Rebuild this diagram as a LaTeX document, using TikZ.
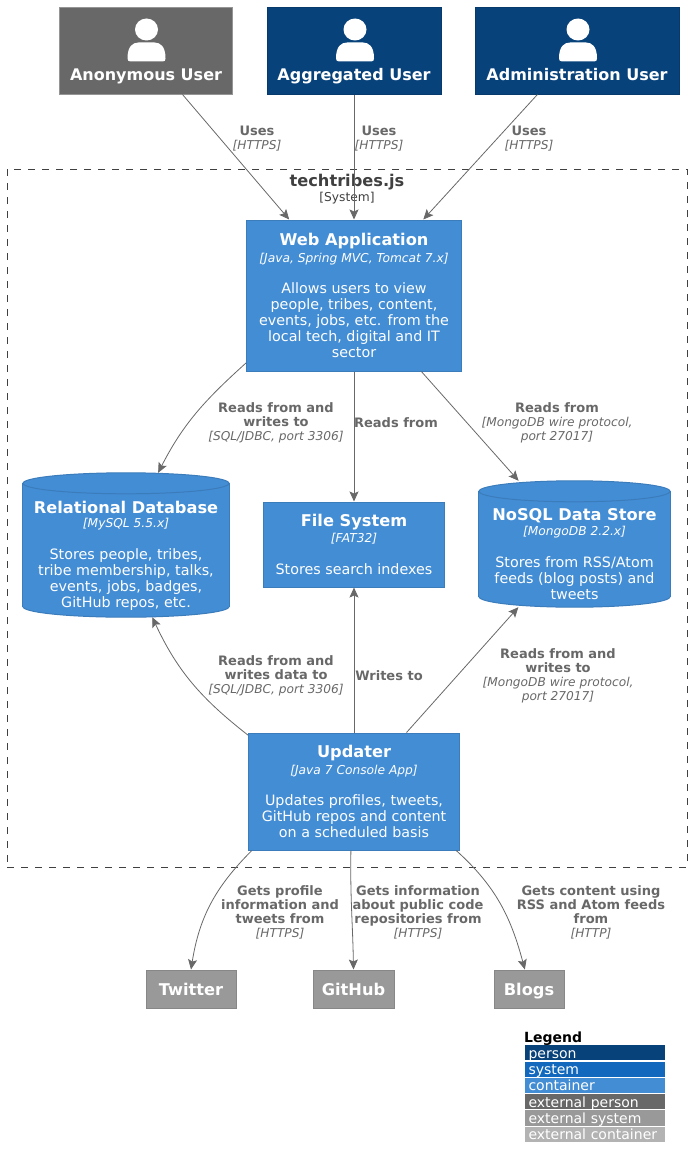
\documentclass[tikz,border=0pt]{standalone}
\usepackage{fontspec}
\setmainfont{DejaVu Sans}
\usepackage{xcolor}
\usetikzlibrary{arrows.meta,calc}
\definecolor{personblue}{HTML}{08427B}
\definecolor{systemblue}{HTML}{1168BD}
\definecolor{containerblue}{HTML}{438DD5}
\definecolor{extperson}{HTML}{686868}
\definecolor{extsystem}{HTML}{999999}
\definecolor{extcontainer}{HTML}{B3B3B3}
\newcommand{\boxtitle}[1]{{\fontsize{16.2}{16}\selectfont\bfseries #1}}
\newcommand{\boxtech}[1]{{\fontsize{12.25}{16}\selectfont\itshape #1}}
\newcommand{\reltech}[1]{{\normalfont\fontsize{12.2}{14}\selectfont\itshape #1}}
% white head and shoulders, hung from the top edge of a person box
\newcommand{\personicon}[1]{
    \begin{scope}[shift={(#1.north)}, xshift=1pt]
        \fill[white] (0,22) ellipse [x radius=11.5, y radius=11];
        \fill[white] (-19,51) .. controls (-19,39) and (-14,35) .. (-8,35) -- (8,35)
            .. controls (14,35) and (19,39) .. (19,51) .. controls (19,53) and (18,54) .. (16,54)
            -- (-16,54) .. controls (-18,54) and (-19,53) .. (-19,51) -- cycle;
    \end{scope}
}
% cylinder filling a database node, second argument is half its width
\newcommand{\dbcylinder}[2]{
    \draw[dbline] ($(#1.south)+(0,-10.5)$) ellipse [x radius=#2, y radius=10.5];
    \fill[containerblue] ($(#1.north west)+(0,10.5)$) rectangle ($(#1.south east)+(0,-10.5)$);
    \draw[dbline] ($(#1.north west)+(0,10.5)$) -- ($(#1.south west)+(0,-10.5)$);
    \draw[dbline] ($(#1.north east)+(0,10.5)$) -- ($(#1.south east)+(0,-10.5)$);
    \draw[dbline] ($(#1.north)+(0,10.5)$) ellipse [x radius=#2, y radius=10.5];
}
\begin{document}
\begin{tikzpicture}[
    x=1pt, y=-1pt,
    font=\fontsize{14.3}{16}\selectfont,
    box/.style={rectangle, draw=#1!88!black, line width=1pt, fill=#1, text=white, align=center, inner sep=0pt},
    database/.style={rectangle, inner sep=0pt},
    dbline/.style={draw=containerblue!88!black, line width=1pt, fill=containerblue},
    dbtext/.style={text=white, align=center, inner sep=0pt},
    personname/.style={font=\fontsize{16}{16}\selectfont\bfseries, text=white, anchor=base},
    external/.style={box=extsystem, minimum height=38pt, font=\fontsize{16.2}{16}\selectfont\bfseries, text height=12pt, text depth=0pt},
    rel/.style={font=\fontsize{13}{14}\selectfont\bfseries, text=extperson, align=center, inner sep=0pt},
    arrow/.style={-{Stealth[length=10pt,width=9pt,inset=2pt]}, line width=0.8pt, draw=extperson},
    legendrow/.style={rectangle, minimum width=140pt, minimum height=15.2pt, inner sep=0pt, text width=133pt, text height=13pt, text depth=2pt, font=\fontsize{14}{15}\selectfont, fill=#1, text=white, align=left}
]
    \useasboundingbox (0,0) rectangle (692,1164);

    % System boundary
    \node[draw=black!75, dash pattern=on 7pt off 7pt, line width=0.8pt, minimum width=680pt, minimum height=698pt, inner sep=0pt] (boundary) at (347,518) {};
    \node[font=\fontsize{16.2}{16}\selectfont\bfseries, text=black!75, inner sep=0pt, anchor=base] (boundary-title) at (347,186.5) {techtribes.js};
    \node[font=\fontsize{12.25}{14}\selectfont, text=black!75, inner sep=0pt, anchor=base] (boundary-type) at (347,201) {[System]};

    % Users
    \node[box=extperson, draw=extperson!70!white, minimum width=173pt, minimum height=86pt] (anon) at (145.5,51) {};
    \node[box=personblue, minimum width=174pt, minimum height=86pt] (aggregated) at (354,51) {};
    \node[box=personblue, minimum width=204pt, minimum height=86pt] (admin) at (577,51) {};
    \node[personname] (anon-name) at (146,80.5) {Anonymous User};
    \node[personname] (aggregated-name) at (354,80.5) {Aggregated User};
    \node[personname] (admin-name) at (577,80.5) {Administration User};
    \personicon{anon}
    \personicon{aggregated}
    \personicon{admin}

    % Containers
    \node[box=containerblue, minimum width=215pt, minimum height=151pt] (web) at (354,295.5) {\boxtitle{Web Application}\\[1pt]\boxtech{[Java, Spring MVC, Tomcat 7.x]}\\[15pt]Allows users to view\\people, tribes, content,\\events, jobs, etc. from the\\local tech, digital and IT\\sector};
    \node[database, minimum width=206pt, minimum height=144pt] (reldb) at (126,545) {};
    \dbcylinder{reldb}{103}
    \node[dbtext] (reldb-text) at (126,556) {\boxtitle{Relational Database}\\[-2pt]\boxtech{[MySQL 5.5.x]}\\[16pt]Stores people, tribes,\\tribe membership, talks,\\events, jobs, badges,\\GitHub repos, etc.};
    \node[box=containerblue, minimum width=181pt, minimum height=85pt] (files) at (354,544.5) {\boxtitle{File System}\\\boxtech{[FAT32]}\\[16pt]Stores search indexes};
    \node[database, minimum width=191pt, minimum height=126pt] (nosql) at (574.5,544) {};
    \dbcylinder{nosql}{95.5}
    \node[dbtext] (nosql-text) at (574.5,554.5) {\boxtitle{NoSQL Data Store}\\[-1pt]\boxtech{[MongoDB 2.2.x]}\\[16pt]Stores from RSS/Atom\\feeds (blog posts) and\\tweets};
    \node[box=containerblue, minimum width=211pt, minimum height=117pt] (updater) at (354,791.5) {\boxtitle{Updater}\\[1pt]\boxtech{[Java 7 Console App]}\\[15pt]Updates profiles, tweets,\\GitHub repos and content\\on a scheduled basis};

    % External systems
    \node[external, minimum width=90pt] (twitter) at (191,989) {Twitter};
    \node[external, minimum width=81pt] (github) at (353.5,989) {GitHub};
    \node[external, minimum width=70pt] (blogs) at (529,989) {Blogs};

    % Connectors
    \draw[arrow] (anon) -- (web);
    \draw[arrow] (aggregated) -- (web);
    \draw[arrow] (admin) -- (web);
    \draw[arrow] (web.212) to[out=222, in=63] (reldb.66);
    \draw[arrow] (web) -- (files);
    \draw[arrow] (web) -- (nosql);
    \draw[arrow] (updater.152) to[out=142, in=-65] (reldb.290);
    \draw[arrow] (updater) -- (files);
    \draw[arrow] (updater) -- (nosql);
    \draw[arrow] (updater.210) to[out=225, in=81] (twitter.north);
    \draw[arrow] (updater.267) to[out=269, in=91] (github.north);
    \draw[arrow] (updater.-30) to[out=-42, in=105] (blogs.102);

    % Connector labels
    \node[rel] (uses-anon) at (257,139) {Uses\\\reltech{[HTTPS]}};
    \node[rel] (uses-aggregated) at (379,139) {Uses\\\reltech{[HTTPS]}};
    \node[rel] (uses-admin) at (529,139) {Uses\\\reltech{[HTTPS]}};
    \node[rel] (web-reldb) at (276,422.5) {Reads from and\\writes to\\\reltech{[SQL/JDBC, port 3306]}};
    \node[rel] (web-files) at (396,422.5) {Reads from};
    \node[rel] (web-nosql) at (557,422.5) {Reads from\\\reltech{[MongoDB wire protocol,}\\\reltech{port 27017]}};
    \node[rel] (updater-reldb) at (276,675.5) {Reads from and\\writes data to\\\reltech{[SQL/JDBC, port 3306]}};
    \node[rel] (updater-files) at (389,675.5) {Writes to};
    \node[rel] (updater-nosql) at (558,675.5) {Reads from and\\writes to\\\reltech{[MongoDB wire protocol,}\\\reltech{port 27017]}};
    \node[rel] (updater-twitter) at (280,912.5) {Gets profile\\information and\\tweets from\\\reltech{[HTTPS]}};
    \node[rel] (updater-github) at (418,912.5) {Gets information\\about public code\\repositories from\\\reltech{[HTTPS]}};
    \node[rel] (updater-blogs) at (591,912.5) {Gets content using\\RSS and Atom feeds\\from\\\reltech{[HTTP]}};

    % Legend
    \node[font=\fontsize{14}{16}\selectfont\bfseries, text=black, inner sep=0pt, anchor=base west] (legend) at (524,1042) {Legend};
    \node[legendrow=personblue] (legend-person) at (595,1052.8) {person};
    \node[legendrow=systemblue] (legend-system) at (595,1069.1) {system};
    \node[legendrow=containerblue] (legend-container) at (595,1085.4) {container};
    \node[legendrow=extperson] (legend-extperson) at (595,1101.6) {external person};
    \node[legendrow=extsystem] (legend-extsystem) at (595,1117.9) {external system};
    \node[legendrow=extcontainer] (legend-extcontainer) at (595,1134.2) {external container};
\end{tikzpicture}
\end{document}
